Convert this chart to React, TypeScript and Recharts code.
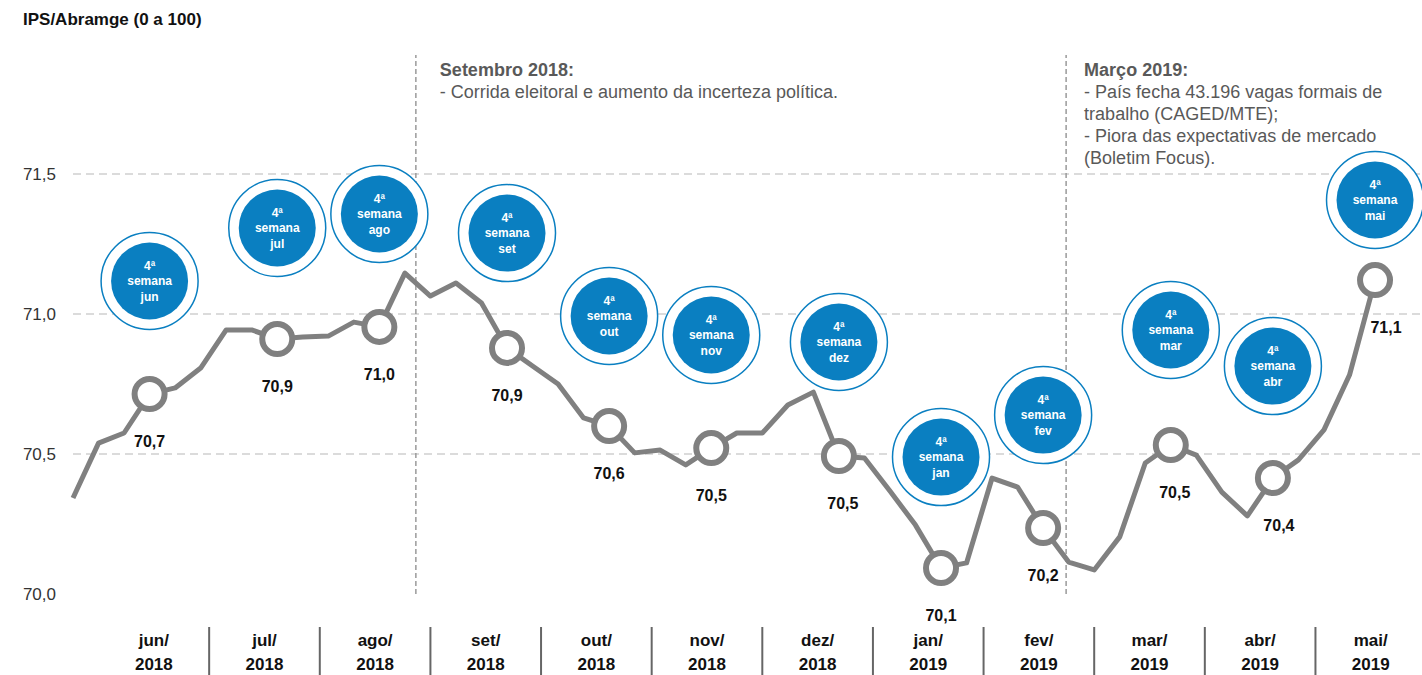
import React from 'react';
import { ComposedChart, Line, XAxis, YAxis, ReferenceLine } from 'recharts';

// weekly IPS/Abramge index, jun/2018 -> mai/2019
const WEEKLY = [
  70.343, 70.539, 70.575, 70.714, 70.736, 70.807, 70.943, 70.943, 70.911, 70.918,
  70.921, 70.971, 70.954, 71.146, 71.064, 71.111, 71.039, 70.879, 70.814, 70.75,
  70.629, 70.6, 70.504, 70.514, 70.461, 70.521, 70.575, 70.575, 70.675, 70.721,
  70.493, 70.486, 70.368, 70.246, 70.093, 70.111, 70.414, 70.382, 70.236, 70.114,
  70.086, 70.204, 70.468, 70.532, 70.496, 70.364, 70.279, 70.414, 70.479, 70.586,
  70.782, 71.121,
];

// index of the "4ª semana" point of each month
const MONTH_POINT_INDEX = [3, 8, 12, 17, 21, 25, 30, 34, 38, 43, 47, 51];
const VALUE_LABELS = ['70,7', '70,9', '71,0', '70,9', '70,6', '70,5', '70,5', '70,1', '70,2', '70,5', '70,4', '71,1'];
const BADGE_MONTHS = ['jun', 'jul', 'ago', 'set', 'out', 'nov', 'dez', 'jan', 'fev', 'mar', 'abr', 'mai'];
// height (index units) where each badge sits
const BADGE_LEVEL = [71.118, 71.307, 71.357, 71.289, 70.993, 70.925, 70.9, 70.489, 70.639, 70.943, 70.814, 71.407];

const AXIS_MONTHS = ['jun/', 'jul/', 'ago/', 'set/', 'out/', 'nov/', 'dez/', 'jan/', 'fev/', 'mar/', 'abr/', 'mai/'];
const AXIS_YEARS = ['2018', '2018', '2018', '2018', '2018', '2018', '2018', '2019', '2019', '2019', '2019', '2019'];

const Y_TICKS = [70, 70.5, 71, 71.5];
const GRID_VALUES = [70.5, 71, 71.5];

const EVENT_AT = [13.43, 38.9];
const EVENT_TEXT = [
  ['Setembro 2018:', '- Corrida eleitoral e aumento da incerteza política.'],
  ['Março 2019:', '- País fecha 43.196 vagas formais de', 'trabalho (CAGED/MTE);', '- Piora das expectativas de mercado', '(Boletim Focus).'],
];
const EVENT_DX = [24, 18];

const FONT = '"Liberation Sans", Arial, Helvetica, sans-serif';
const BLUE = '#0a7fc1';
const GREY = '#808080';

const WEEKS_PER_MONTH = 52 / 12;
const MONTH_CENTERS = AXIS_MONTHS.map((_, m) => 1 + (m + 0.5) * WEEKS_PER_MONTH);
const MONTH_SEPS = AXIS_MONTHS.slice(1).map((_, m) => 1 + (m + 1) * WEEKS_PER_MONTH);

const data = WEEKLY.map((v, i) => {
  const m = MONTH_POINT_INDEX.indexOf(i);
  return { i, v, badge: m >= 0 ? BADGE_LEVEL[m] : null };
});

const labelNudge: Record<number, number> = { 6: 4, 9: 4, 10: 6, 11: 11 };

const MarkerDot = (props: any) => {
  const { cx, cy, index } = props;
  const m = MONTH_POINT_INDEX.indexOf(index);
  if (m < 0 || cx == null || cy == null) return <g key={`d-${index}`} />;
  return (
    <g key={`d-${index}`}>
      <circle cx={cx} cy={cy} r={15} fill="#fff" stroke={GREY} strokeWidth={6} />
      <text x={cx + (labelNudge[m] || 0)} y={cy + 53} textAnchor="middle" fontFamily={FONT} fontWeight="bold" fontSize={16} fill="#111">
        {VALUE_LABELS[m]}
      </text>
    </g>
  );
};

const BadgeDot = (props: any) => {
  const { cx, cy, index, payload } = props;
  if (!payload || payload.badge == null || cx == null || cy == null) return <g key={`b-${index}`} />;
  const m = MONTH_POINT_INDEX.indexOf(index);
  return (
    <g key={`b-${index}`}>
      <circle cx={cx} cy={cy} r={48.5} fill="#fff" stroke={BLUE} strokeWidth={1.5} />
      <circle cx={cx} cy={cy} r={38.5} fill={BLUE} />
      <g fontFamily={FONT} fontWeight="bold" fontSize={12} fill="#fff" textAnchor="middle">
        <text x={cx} y={cy - 11}>4ª</text>
        <text x={cx} y={cy + 4}>semana</text>
        <text x={cx} y={cy + 20}>{BADGE_MONTHS[m]}</text>
      </g>
    </g>
  );
};

const MonthTick = (props: any) => {
  const { x, y, payload } = props;
  const v = payload.value;
  const c = MONTH_CENTERS.findIndex((t) => Math.abs(t - v) < 0.001);
  if (c >= 0) {
    return (
      <g fontFamily={FONT} fontWeight="bold" fontSize={17} fill="#111" textAnchor="middle">
        <text x={x} y={y + 52}>{AXIS_MONTHS[c]}</text>
        <text x={x} y={y + 76}>{AXIS_YEARS[c]}</text>
      </g>
    );
  }
  return <line x1={x} x2={x} y1={y + 33} y2={y + 81} stroke="#666" strokeWidth={2} />;
};

const ValueTick = (props: any) => {
  const { x, y, payload } = props;
  return (
    <text x={x - 17} y={y + 6} textAnchor="end" fontFamily={FONT} fontSize={17} fill="#333">
      {payload.value.toFixed(1).replace('.', ',')}
    </text>
  );
};

const eventLabel = (k: number) => (props: any) => {
  const vb = props.viewBox || {};
  const lines = EVENT_TEXT[k];
  return (
    <g fontFamily={FONT} fontSize={18} fill="#595959">
      {lines.map((t, j) => (
        <text key={j} x={vb.x + EVENT_DX[k]} y={vb.y + 21 + j * 22} fontWeight={j === 0 ? 'bold' : 'normal'}>
          {t}
        </text>
      ))}
    </g>
  );
};

export default function App() {
  return (
    <div style={{ position: 'absolute', left: 0, top: 0, width: 1422, height: 675, background: '#fff' }}>
      <div style={{ position: 'absolute', left: 23, top: 10, fontFamily: FONT, fontWeight: 'bold', fontSize: 17, color: '#111' }}>
        IPS/Abramge (0 a 100)
      </div>
      <ComposedChart width={1422} height={675} data={data} margin={{ top: 55, right: 0, bottom: 0, left: 0 }}>
        <XAxis
          dataKey="i"
          type="number"
          domain={[0, 52.84]}
          ticks={[...MONTH_CENTERS, ...MONTH_SEPS]}
          interval={0}
          tick={<MonthTick />}
          tickLine={false}
          axisLine={false}
          tickSize={0}
          tickMargin={0}
          height={81}
        />
        <YAxis
          type="number"
          domain={[70, 71.925]}
          ticks={Y_TICKS}
          interval={0}
          tick={<ValueTick />}
          tickLine={false}
          axisLine={false}
          tickSize={0}
          tickMargin={0}
          width={73}
        />
        {GRID_VALUES.map((g) => (
          <ReferenceLine key={g} y={g} stroke="#cfcfcf" strokeWidth={1.5} strokeDasharray="8 5" />
        ))}
        {EVENT_AT.map((x, k) => (
          <ReferenceLine key={x} x={x} stroke="#9a9a9a" strokeWidth={1.5} strokeDasharray="5 3" label={eventLabel(k)} />
        ))}
        <Line
          dataKey="v"
          stroke={GREY}
          strokeWidth={5}
          strokeLinejoin="round"
          type="linear"
          dot={<MarkerDot />}
          activeDot={false}
          isAnimationActive={false}
        />
        <Line
          dataKey="badge"
          stroke="none"
          type="linear"
          dot={<BadgeDot />}
          activeDot={false}
          connectNulls={false}
          isAnimationActive={false}
        />
      </ComposedChart>
    </div>
  );
}
